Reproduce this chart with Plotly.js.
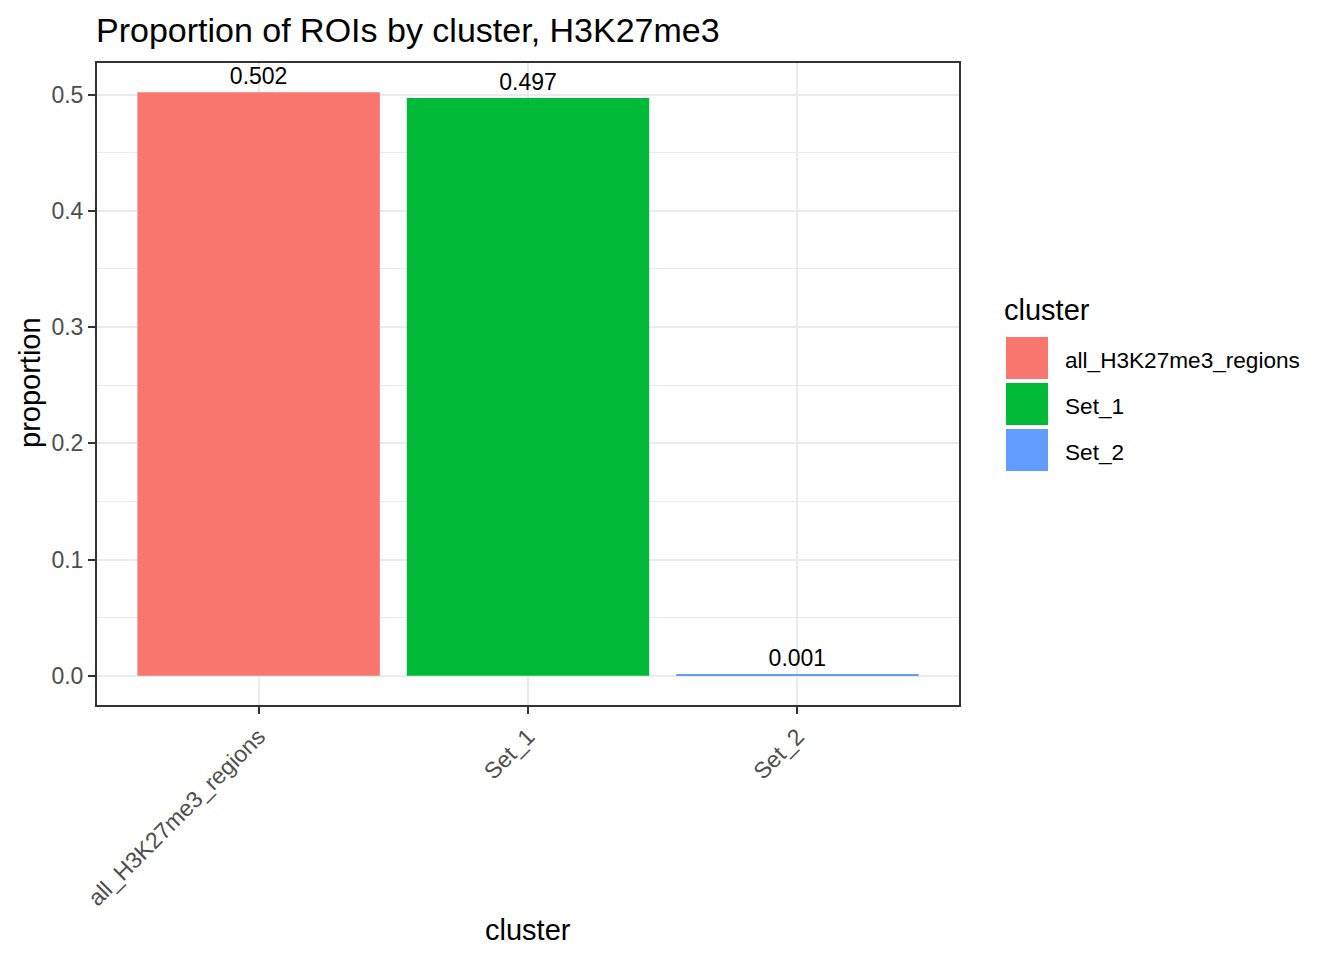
<!DOCTYPE html>
<html><head><meta charset="utf-8">
<script src="https://cdn.plot.ly/plotly-3.0.1.min.js"></script>
<style>html,body{margin:0;padding:0;background:#fff}#plot{width:1344px;height:960px}</style>
</head><body><div id="plot"></div>
<script>
const categories = ["all_H3K27me3_regions", "Set_1", "Set_2"];
const proportions = [0.502, 0.497, 0.001];
const labels = ["0.502", "0.497", "0.001"];
const colors = ["#F8766D", "#00BA38", "#619CFF"];

const FONT = "Liberation Sans, Arial, sans-serif";
const W = 1344, H = 960;
const L = 97, R = 959, T = 63, B = 705;
const px = x => (x - L) / (R - L);
const py = y => (B - y) / (B - T);

const trace = {
  type: "bar",
  x: categories,
  y: proportions,
  width: 0.9,
  marker: {color: colors, line: {width: 0}},
  text: labels,
  textposition: "outside",
  cliponaxis: false,
  textfont: {family: FONT, size: 23, color: "#000"},
  hoverinfo: "x+y",
  showlegend: false
};

const shapes = [];
const annotations = [];
// legend
const keyTops = [337, 383, 429];
categories.forEach((c, i) => {
  shapes.push({type: "rect", xref: "paper", yref: "paper",
    x0: px(1006), x1: px(1048), y0: py(keyTops[i] + 42), y1: py(keyTops[i]),
    fillcolor: colors[i], line: {width: 0}, layer: "above"});
  annotations.push({xref: "paper", yref: "paper", x: px(1063), y: py(keyTops[i] + 23),
    xanchor: "left", yanchor: "middle", showarrow: false, text: c,
    font: {family: FONT, size: 22.6, color: "#000"}});
});
annotations.push({xref: "paper", yref: "paper", x: px(1002), y: py(310),
  xanchor: "left", yanchor: "middle", showarrow: false, text: "cluster",
  font: {family: FONT, size: 29, color: "#000"}});
// axis titles
annotations.push({xref: "paper", yref: "paper", x: px(528), y: py(930),
  xanchor: "center", yanchor: "middle", showarrow: false, text: "cluster",
  font: {family: FONT, size: 29, color: "#000"}});
annotations.push({xref: "paper", yref: "paper", x: px(30), y: py(383),
  xanchor: "center", yanchor: "middle", showarrow: false, text: "proportion", textangle: -90,
  font: {family: FONT, size: 29, color: "#000"}});

const layout = {
  width: W, height: H,
  margin: {l: L, r: W - R, t: T, b: H - B, pad: 0},
  paper_bgcolor: "#fff", plot_bgcolor: "#fff",
  font: {family: FONT},
  title: {text: "Proportion of ROIs by cluster, H3K27me3", xref: "container", yref: "container",
    x: 96 / W, xanchor: "left", y: 1 - 30 / H, yanchor: "middle",
    font: {family: FONT, size: 34, color: "#000"}},
  xaxis: {type: "category", range: [-0.6, 2.6], showgrid: true, gridcolor: "#EBEBEB", gridwidth: 2,
    zeroline: false, showline: true, linecolor: "#333", linewidth: 2, mirror: true,
    ticks: "outside", ticklen: 7, tickwidth: 2, tickcolor: "#333",
    tickangle: -45, tickfont: {family: FONT, size: 23, color: "#4D4D4D"}, fixedrange: true},
  yaxis: {range: [-0.0251, 0.5271], tickvals: [0, 0.1, 0.2, 0.3, 0.4, 0.5],
    ticktext: ["0.0", "0.1", "0.2", "0.3", "0.4", "0.5"],
    showgrid: true, gridcolor: "#EBEBEB", gridwidth: 2,
    minor: {tickvals: [0.05, 0.15, 0.25, 0.35, 0.45], showgrid: true, gridcolor: "#EBEBEB", gridwidth: 1, ticks: ""},
    zeroline: false, showline: true, linecolor: "#333", linewidth: 2, mirror: true,
    ticks: "outside", ticklen: 7, tickwidth: 2, tickcolor: "#333",
    tickfont: {family: FONT, size: 23, color: "#4D4D4D"}, fixedrange: true},
  shapes: shapes,
  annotations: annotations,
  bargap: 0.1
};

Plotly.newPlot("plot", [trace], layout, {displayModeBar: false, staticPlot: false});
</script></body></html>
